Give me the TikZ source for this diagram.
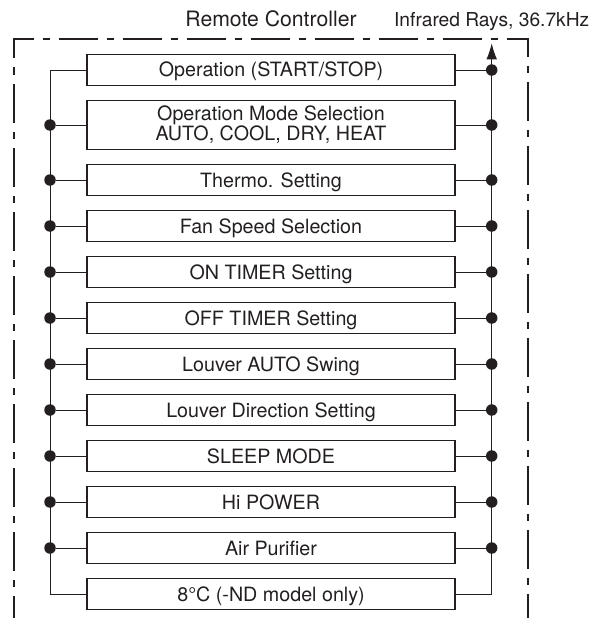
\documentclass[tikz,border=0pt]{standalone}
\usepackage{fontspec}
\setmainfont{TeX Gyre Heros}
\usepackage{xcolor}
\usetikzlibrary{positioning,arrows.meta}
\definecolor{ink}{RGB}{35,31,32}

\begin{document}
\begin{tikzpicture}[x=1pt, y=-1pt,
  every node/.style={text=ink},
  fbox/.style={rectangle, draw=ink, line width=1.3pt, inner sep=0pt,
    minimum width=368pt, minimum height=31pt,
    align=center, font=\fontsize{19.7}{18}\selectfont},
  onebox/.style={fbox, text height=14pt, text depth=0pt},
  twobox/.style={fbox, minimum height=49pt},
  wire/.style={draw=ink, line width=0.9pt},
  dot/.style={circle, fill=ink, inner sep=0pt, minimum size=11.5pt},
  frame/.style={draw=ink, line width=1.7pt,
    dash pattern=on 39pt off 9pt on 7pt off 9pt, dash phase=16.5pt},
  arr/.style={wire, -{Latex[length=16pt, width=10.5pt]}},
  lbl/.style={text height=14pt, text depth=0pt, inner sep=0pt}
]
\useasboundingbox (0,0) rectangle (592,618);

% Titles
\node[lbl, font=\fontsize{21.2}{23}\selectfont] (title) at (271, 19.7) {Remote Controller};
\node[lbl, font=\fontsize{19.2}{21}\selectfont] (ir) at (491.7, 19.3) {Infrared Rays, 36.7kHz};

% Dash-dot outline of the controller
\draw[frame] (14,618) -- (14,39.3) -- (528.3,39.3) -- (528.3,618);

% Function keys
\node[onebox] (b1)  at (271,  70) {Operation (START/STOP)};
\node[twobox] (b2)  at (271, 125) {Operation Mode Selection\\AUTO, COOL, DRY, HEAT};
\node[onebox] (b3)  at (271, 180) {Thermo. Setting};
\node[onebox] (b4)  at (271, 226) {Fan Speed Selection};
\node[onebox] (b5)  at (271, 272) {ON TIMER Setting};
\node[onebox] (b6)  at (271, 318) {OFF TIMER Setting};
\node[onebox] (b7)  at (271, 364) {Louver AUTO Swing};
\node[onebox] (b8)  at (271, 410) {Louver Direction Setting};
\node[onebox] (b9)  at (271, 456) {SLEEP MODE};
\node[onebox] (b10) at (271, 502) {Hi POWER};
\node[onebox] (b11) at (271, 548) {Air Purifier};
\node[onebox] (b12) at (271, 594) {8°C (-ND model only)};

% Bus corners and signal output
\coordinate (lt) at (50, 70);
\coordinate (lb) at (50, 594);
\coordinate (rb) at (491.7, 594);
\coordinate (tip) at (491.7, 43.3);

\draw[wire] (b1.west) -- (lt) -- (lb) -- (b12.west);
\draw[wire] (b12.east) -- (rb) -- (tip |- b1.east);
\draw[arr] (tip |- b1.east) -- (tip);

% Taps onto both buses
\node[dot] (r1) at (tip |- b1.east) {};
\draw[wire] (b1.east) -- (r1);
\foreach \i in {2,...,11} {
  \node[dot] (l\i) at (lt |- b\i.west) {};
  \node[dot] (r\i) at (tip |- b\i.east) {};
  \draw[wire] (b\i.west) -- (l\i);
  \draw[wire] (b\i.east) -- (r\i);
}

\end{tikzpicture}
\end{document}
